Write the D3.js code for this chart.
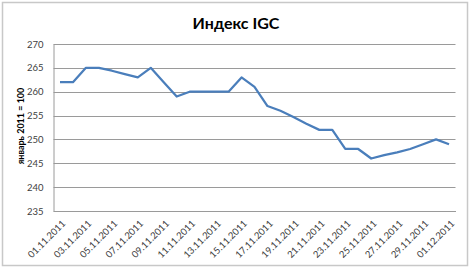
<!DOCTYPE html>
<meta charset="utf-8">
<script src="https://d3js.org/d3.v7.min.js"></script>
<style>
  body { margin: 0; background: #fff; }
  text { font-family: Lato, "Open Sans", sans-serif; }
</style>
<body>
<div id="chart"></div>
</body>
<script>
    // dates (category axis) and index values
    const days = ["01.11.2011", "02.11.2011", "03.11.2011", "04.11.2011", "05.11.2011", "06.11.2011",
        "07.11.2011", "08.11.2011", "09.11.2011", "10.11.2011", "11.11.2011", "12.11.2011",
        "13.11.2011", "14.11.2011", "15.11.2011", "16.11.2011", "17.11.2011", "18.11.2011",
        "19.11.2011", "20.11.2011", "21.11.2011", "22.11.2011", "23.11.2011", "24.11.2011",
        "25.11.2011", "26.11.2011", "27.11.2011", "28.11.2011", "29.11.2011", "30.11.2011",
        "01.12.2011"];
    const igc = [262, 262, 265, 265, 264.4, 263.7, 263, 265, 262, 259, 260, 260,
        260, 260, 263, 261, 257, 256, 254.7, 253.3, 252, 252, 248, 248,
        246, 246.7, 247.3, 248, 249, 250, 249];
    const yTicks = [235, 240, 245, 250, 255, 260, 265, 270];
    const labelDays = days.filter((d, i) => i % 2 === 0);

    const W = 470, H = 268;
    const margin = {top: 44, right: 14.5, bottom: 57, left: 53.5};
    const width = W - margin.left - margin.right,
        height = H - margin.top - margin.bottom;

    const svg = d3.select("#chart")
        .append("svg")
        .attr("width", W)
        .attr("height", H);

    // outer chart frame
    svg.append("rect")
        .attr("x", 2.5).attr("y", 2.5)
        .attr("width", W - 5).attr("height", H - 5)
        .attr("fill", "#fff")
        .attr("stroke", "#c8c8c8")
        .attr("stroke-width", 1.5);

    const g = svg.append("g")
        .attr("transform", "translate(" + margin.left + "," + margin.top + ")");

    const x = d3.scaleBand()
        .domain(days)
        .range([0, width])
        .padding(0);

    const y = d3.scaleLinear()
        .domain([235, 270])
        .range([height, 0]);

    // gridlines
    g.selectAll(".grid")
        .data(yTicks)
        .enter()
        .append("line")
        .attr("x1", 0)
        .attr("x2", width)
        .attr("y1", d => Math.round(y(d)) + 0.5)
        .attr("y2", d => Math.round(y(d)) + 0.5)
        .attr("stroke", "#9a9a9a")
        .attr("stroke-width", 1);

    // y axis
    const yAxis = g.append("g")
        .call(d3.axisLeft(y).tickValues(yTicks).tickSize(0).tickPadding(10));
    yAxis.select(".domain").attr("stroke", "#9a9a9a");
    yAxis.selectAll("text")
        .style("font-size", "9.5px")
        .style("fill", "#404040");

    // x axis
    const xAxis = g.append("g")
        .attr("transform", "translate(0," + height + ")")
        .call(d3.axisBottom(x).tickValues(labelDays).tickSize(0).tickPadding(4));
    xAxis.select(".domain").attr("stroke", "#9a9a9a");
    xAxis.selectAll("text")
        .style("font-size", "9.5px")
        .style("fill", "#404040")
        .attr("text-anchor", "end")
        .attr("dy", "0.35em")
        .attr("transform", "translate(1,8) rotate(-45)");

    // series line
    const line = d3.line()
        .x((d, i) => x(days[i]) + x.bandwidth() / 2)
        .y(d => y(d));

    g.append("path")
        .datum(igc)
        .attr("d", line)
        .attr("fill", "none")
        .attr("stroke", "#4a7ebb")
        .attr("stroke-width", 2.25)
        .attr("stroke-linejoin", "round");

    // title
    svg.append("text")
        .attr("x", 236)
        .attr("y", 29)
        .attr("text-anchor", "middle")
        .style("font-size", "16px")
        .style("font-weight", "bold")
        .text("Индекс IGC");

    // y axis title
    svg.append("text")
        .attr("transform", "translate(24,126) rotate(-90)")
        .attr("text-anchor", "middle")
        .style("font-size", "9px")
        .style("font-weight", "bold")
        .text("январь  2011 = 100");
</script>
</html>
